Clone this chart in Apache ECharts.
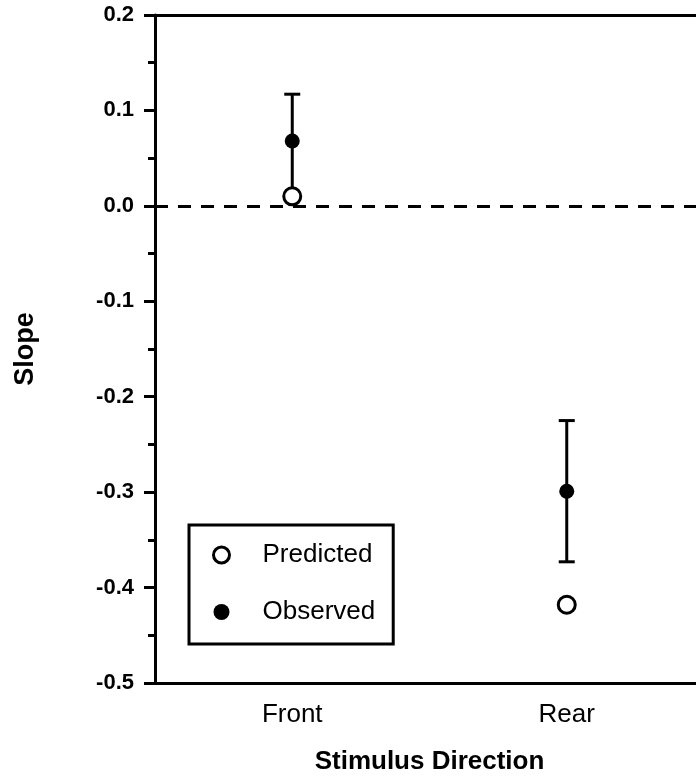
<!DOCTYPE html>
<html>
<head>
<meta charset="utf-8">
<script src="https://cdn.jsdelivr.net/npm/echarts@6/dist/echarts.min.js"></script>
<style>
  html, body { margin: 0; padding: 0; background: #fff; }
  #chart { width: 696px; height: 778px; }
</style>
</head>
<body>
<div id="chart"></div>
<script>
// data
var directions = ['Front', 'Rear'];
var predicted = [0.01, -0.418];
var observed = [0.068, -0.299];
var errUp = [0.049, 0.074];
var errDown = [0.058, 0.074];   // front lower end sits inside the predicted circle

var font = "'Liberation Sans', Arial, Helvetica, sans-serif";

// error bars: [category index, low, high]
var errBars = observed.map(function (v, i) {
  return [i, v - errDown[i], v + errUp[i]];
});

var chart = echarts.init(document.getElementById('chart'));

chart.setOption({
  animation: false,
  backgroundColor: '#fff',
  textStyle: { fontFamily: font },
  grid: { left: 155, top: 15, width: 549, height: 668, containLabel: false, outerBoundsMode: 'none' },
  legend: {
    data: [
      { name: 'Predicted', icon: 'circle', itemStyle: { color: '#fff', borderColor: '#000', borderWidth: 3, opacity: 1 } },
      { name: 'Observed', icon: 'circle', itemStyle: { color: '#000', borderWidth: 0, opacity: 1 } }
    ],
    orient: 'vertical',
    left: 189,
    top: 525,
    padding: [15, 18, 17, 23],
    borderColor: '#000',
    borderWidth: 3,
    itemWidth: 16,
    itemHeight: 16,
    itemGap: 27,
    textStyle: { fontSize: 26, color: '#000', fontFamily: font, padding: [0, 0, 0, 28], lineHeight: 30 }
  },
  xAxis: [{
    type: 'category',
    data: directions,
    position: 'bottom',
    axisLine: { onZero: false, lineStyle: { color: '#000', width: 3 } },
    axisTick: { alignWithLabel: true, length: 8, lineStyle: { color: '#000', width: 3 } },
    axisLabel: { fontSize: 26, color: '#000', margin: 19, fontFamily: font },
    splitLine: { show: false },
    name: 'Stimulus Direction',
    nameLocation: 'middle',
    nameGap: 66,
    nameTextStyle: { fontSize: 26, fontWeight: 'bold', color: '#000', fontFamily: font }
  }, {
    type: 'category',
    data: directions,
    position: 'top',
    axisLine: { onZero: false, lineStyle: { color: '#000', width: 3 } },
    axisTick: { show: false },
    axisLabel: { show: false },
    splitLine: { show: false }
  }],
  yAxis: {
    type: 'value',
    min: -0.5,
    max: 0.2,
    interval: 0.1,
    axisLine: { show: true, lineStyle: { color: '#000', width: 3 } },
    axisTick: { show: true, length: 11, lineStyle: { color: '#000', width: 3 } },
    minorTick: { show: true, splitNumber: 2, length: 7, lineStyle: { color: '#000', width: 3 } },
    splitLine: { show: false },
    axisLabel: {
      fontSize: 22, fontWeight: 'bold', color: '#000', margin: 21, fontFamily: font,
      formatter: function (v) { return v.toFixed(1); }
    },
    name: 'Slope',
    nameLocation: 'middle',
    nameRotate: 90,
    nameGap: 116,
    nameTextStyle: { fontSize: 27, fontWeight: 'bold', color: '#000', fontFamily: font }
  },
  series: [{
    name: 'err',
    type: 'custom',
    z: 2,
    data: errBars,
    encode: { x: 0, y: [1, 2] },
    renderItem: function (params, api) {
      var x = api.value(0);
      var top = api.coord([x, api.value(2)]);
      var bot = api.coord([x, api.value(1)]);
      var hw = 8;
      var st = { stroke: '#000', lineWidth: 3 };
      return {
        type: 'group',
        children: [
          { type: 'line', shape: { x1: top[0], y1: top[1], x2: bot[0], y2: bot[1] }, style: st },
          { type: 'line', shape: { x1: top[0] - hw, y1: top[1], x2: top[0] + hw, y2: top[1] }, style: st },
          { type: 'line', shape: { x1: bot[0] - hw, y1: bot[1], x2: bot[0] + hw, y2: bot[1] }, style: st }
        ]
      };
    },
    markLine: {
      silent: true,
      symbol: ['none', 'none'],
      label: { show: false },
      lineStyle: { color: '#000', width: 3, type: [13, 10] },
      data: [{ yAxis: 0 }]
    }
  }, {
    name: 'Observed',
    type: 'scatter',
    z: 3,
    symbol: 'circle',
    symbolSize: 15,
    itemStyle: { color: '#000', opacity: 1 },
    data: observed
  }, {
    name: 'Predicted',
    type: 'scatter',
    z: 4,
    symbol: 'circle',
    symbolSize: 17,
    itemStyle: { color: '#fff', borderColor: '#000', borderWidth: 3, opacity: 1 },
    data: predicted
  }]
});
</script>
</body>
</html>
